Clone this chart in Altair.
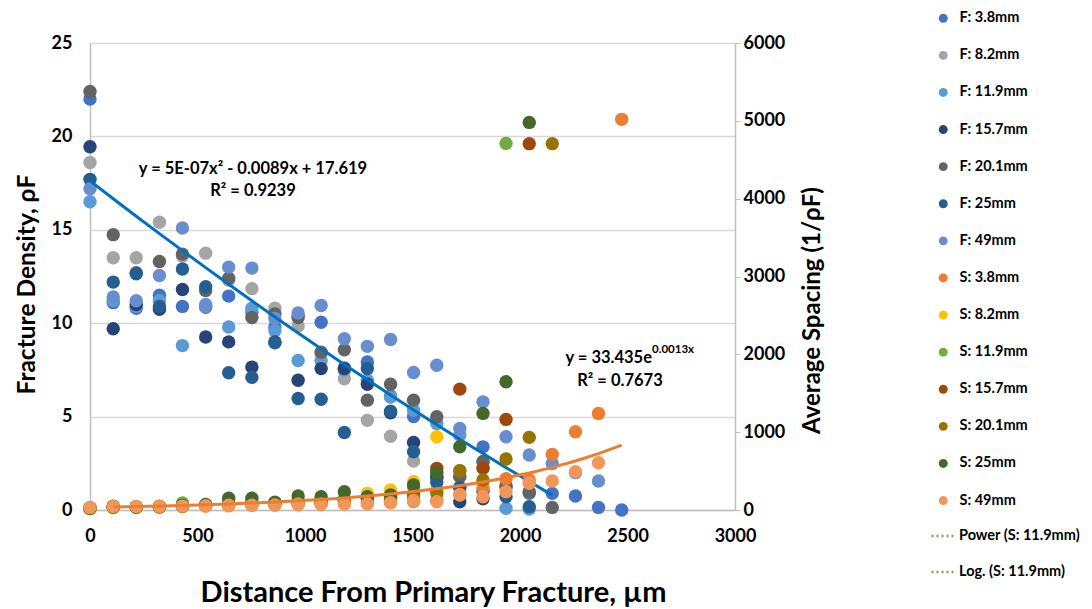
import altair as alt
import pandas as pd

FONT = "Lato"

# distance from primary fracture (µm)
X = [0, 108, 215, 323, 430, 538, 645, 753, 860, 968, 1075, 1183, 1290, 1398,
     1505, 1613, 1720, 1828, 1935, 2043, 2150, 2258, 2365, 2473]

N = None
# Fracture density (left axis)
F_38 = [22.0, 11.1, 10.8, 11.5, 10.9, 10.85, 11.45, 10.6, 9.8, 10.4, 10.05, 7.6, 7.92, 6.1, 5.0, 1.7, 1.2, 3.38, 1.2, 0.9, 0.89, 0.75, 0.14, 0.0]
F_82 = [18.6, 13.5, 13.5, 15.4, 13.6, 13.75, 12.3, 11.85, 10.8, 9.85, 8.4, 7.03, 4.8, 3.95, 2.62, 1.1, 1.8, 1.5, N, N, N, N, N, N]
F_119 = [16.5, 11.2, 10.9, 11.2, 8.8, 11.0, 9.8, 10.8, 9.6, 8.0, 8.0, 7.5, 6.95, 6.05, 5.34, 4.63, 4.0, 2.6, 0.09, 0.05, N, N, N, N]
F_157 = [19.45, 9.7, 11.0, 10.75, 11.8, 9.26, 9.0, 7.65, 9.0, 6.95, 7.57, 7.57, 6.73, 5.2, 3.62, 1.8, 0.44, 0.6, N, N, N, N, N, N]
F_201 = [22.4, 14.74, 12.7, 13.3, 13.7, 11.75, 12.4, 10.3, 10.5, 10.3, 8.45, 8.58, 5.88, 6.73, 5.88, 4.99, 1.78, 2.58, 1.3, 0.98, 0.14, N, N, N]
F_25 = [17.7, 12.2, 12.65, 10.9, 12.9, 11.95, 7.35, 7.1, 8.95, 5.97, 5.93, 4.15, 7.57, 5.29, 3.12, 1.5, 1.2, 1.0, 0.71, 0.18, N, N, N, N]
F_49 = [17.2, 11.4, 11.2, 12.55, 15.1, 10.9, 13.0, 12.95, 10.25, 10.55, 10.95, 9.17, 8.76, 9.13, 7.36, 7.75, 4.36, 5.79, 3.92, 2.94, 2.49, 2.0, 1.55, N]

# Average spacing (right axis)
S_38 = [30, 40, 40, 45, 45, 50, 55, 60, 65, 70, 75, 80, 85, 95, 110, 130, 200, 282, 402, 385, 715, 1005, 1241, 5019]
S_82 = [25, 30, 35, 40, 45, 50, 60, 70, 70, 80, 90, 110, 214, 257, 364, 941, N, N, N, N, N, N, N, N]
S_119 = [20, 40, 40, 40, 90, 60, 100, 110, 90, 120, 130, 150, 160, 180, 300, 490, 505, 535, 4710, N, N, N, N, N]
S_157 = [25, 40, 40, 45, 50, 60, 70, 80, 80, 100, 110, 120, 140, 150, 200, 535, 1553, 539, 1164, 4707, N, N, N, N]
S_201 = [25, 35, 40, 45, 50, 60, 70, 80, 90, 100, 110, 120, 150, 160, 154, 214, 505, 385, 655, 933, 4707, N, N, N]
S_25 = [20, 50, 40, 40, 60, 70, 150, 150, 100, 180, 171, 235, 171, 193, 321, 479, 813, 1241, 1647, 4980, N, N, N, N]
S_49 = [30, 45, 45, 45, 50, 55, 60, 60, 65, 77, 77, 77, 80, 94, 120, 107, 193, 171, 235, 343, 372, 492, 607, N]

F_NAMES = ["F: 3.8mm", "F: 8.2mm", "F: 11.9mm", "F: 15.7mm", "F: 20.1mm", "F: 25mm", "F: 49mm"]
S_NAMES = ["S: 3.8mm", "S: 8.2mm", "S: 11.9mm", "S: 15.7mm", "S: 20.1mm", "S: 25mm", "S: 49mm"]
F_SERIES = [F_38, F_82, F_119, F_157, F_201, F_25, F_49]
S_SERIES = [S_38, S_82, S_119, S_157, S_201, S_25, S_49]
COLORS = ["#4472C4", "#A5A5A5", "#5B9BD5", "#264478", "#636363", "#255E91", "#698ED0",
          "#ED7D31", "#FFC000", "#70AD47", "#9E480E", "#997300", "#43682B", "#F1975A"]
TREND_NAMES = ["Power (S: 11.9mm)", "Log. (S: 11.9mm)"]

rows_f = []
for k, (name, vals) in enumerate(zip(F_NAMES, F_SERIES)):
    for i, (x, v) in enumerate(zip(X, vals)):
        if v is not None:
            rows_f.append({"x": x, "y": v, "series": name, "ord": k * 100 + i})
rows_s = []
for k, (name, vals) in enumerate(zip(S_NAMES, S_SERIES)):
    for i, (x, v) in enumerate(zip(X, vals)):
        if v is not None:
            rows_s.append({"x": x, "s": v, "series": name, "ord": k * 100 + i})
df_f = pd.DataFrame(rows_f)
df_s = pd.DataFrame(rows_s)

x_enc = alt.X("x:Q", scale=alt.Scale(domain=[0, 3000], nice=False),
              axis=alt.Axis(values=[0, 500, 1000, 1500, 2000, 2500, 3000], format="d", labelFlush=False,
                            grid=False, ticks=False,
                            domainColor="#BFBFBF", domainWidth=1.5, labelPadding=17,
                            title="Distance From Primary Fracture, µm", titleFontSize=29,
                            titlePadding=33, titleX=343))
y_left = alt.Y("y:Q", scale=alt.Scale(domain=[0, 25], nice=False),
               axis=alt.Axis(values=[0, 5, 10, 15, 20, 25], grid=True, gridColor="#D9D9D9", gridWidth=1.5,
                             ticks=False, domainColor="#BFBFBF", domainWidth=1.5, labelPadding=18,
                             labelFlush=False,
                             title="Fracture Density, ρF", titleFontSize=24.5, titlePadding=12,
                             titleY=241))
y_right = alt.Y("s:Q", scale=alt.Scale(domain=[0, 6000], nice=False),
                axis=alt.Axis(orient="right", values=[0, 1000, 2000, 3000, 4000, 5000, 6000], format="d",
                              grid=False, labelFlush=False,
                              ticks=True, tickSize=5, tickColor="#BFBFBF", domainColor="#BFBFBF",
                              domainWidth=1.5, labelPadding=3,
                              title="Average Spacing (1/ρF)", titleFontSize=24, titleAngle=270,
                              titleBaseline="middle", titlePadding=28, titleY=267))

color_enc = alt.Color("series:N", scale=alt.Scale(domain=F_NAMES + S_NAMES, range=COLORS),
                      legend=alt.Legend(title=None, orient="none", legendX=846, legendY=-32,
                                        symbolType="circle", symbolSize=80, rowPadding=22.1,
                                        labelFont=FONT, labelFontSize=14.5, labelFontWeight="bold",
                                        labelColor="#000000", labelOffset=9))

f_pts = alt.Chart(df_f).mark_circle(size=180, opacity=1).encode(
    x=x_enc, y=y_left, color=color_enc, order=alt.Order("ord:Q"))
s_pts = alt.Chart(df_s).mark_circle(size=180, opacity=1).encode(
    x=x_enc, y=y_right, color=color_enc, order=alt.Order("ord:Q"))

poly = alt.Chart(pd.DataFrame({"x": X[:21]})).transform_calculate(
    y="5e-7*datum.x*datum.x - 0.0089*datum.x + 17.619"
).mark_line(color="#0070C0", strokeWidth=3).encode(x=x_enc, y=y_left)

expo = alt.Chart(pd.DataFrame({"x": X[1:]})).transform_calculate(
    s="33.435*exp(0.0013*datum.x)"
).mark_line(color="#ED7D31", strokeWidth=3).encode(x=x_enc, y=y_right)

# legend-only entries for the (off-chart) S: 11.9mm trendlines
dummy = alt.Chart(pd.DataFrame({"x": [0, 0], "s": [None, None], "trend": TREND_NAMES})).mark_line(
    color="#70AD47", strokeWidth=2.5).encode(
    x=x_enc, y=y_right,
    strokeDash=alt.StrokeDash("trend:N", scale=alt.Scale(domain=TREND_NAMES, range=[[2, 3], [2, 3]]),
                              legend=alt.Legend(title=None, orient="none", legendX=840, legendY=479,
                                                symbolType="stroke", symbolSize=625,
                                                symbolStrokeColor="#70AD47", symbolStrokeWidth=2.5,
                                                rowPadding=15, labelFont=FONT, labelFontSize=14.5,
                                                labelFontWeight="bold", labelColor="#000000",
                                                labelOffset=1)))

txt_style = dict(font=FONT, fontSize=16.5, fontWeight="bold", color="#000000")
eq1 = alt.Chart(pd.DataFrame({"x": [758, 758], "y": [18.27, 17.1],
                              "t": ["y = 5E-07x² - 0.0089x + 17.619", "R² = 0.9239"]})).mark_text(
    align="center", baseline="middle", **txt_style).encode(x=x_enc, y=y_left, text="t:N")

eq2 = alt.Chart(pd.DataFrame({"x": [2614], "s": [1951], "t": ["y = 33.435e"]})).mark_text(
    align="right", baseline="middle", **txt_style).encode(x=x_enc, y=y_right, text="t:N")
eq2sup = alt.Chart(pd.DataFrame({"x": [2614], "s": [1951], "t": ["0.0013x"]})).mark_text(
    align="left", baseline="middle", dy=-8, font=FONT, fontSize=11.5, fontWeight="bold",
    color="#000000").encode(x=x_enc, y=y_right, text="t:N")
eq2r = alt.Chart(pd.DataFrame({"x": [2465], "s": [1656], "t": ["R² = 0.7673"]})).mark_text(
    align="center", baseline="middle", **txt_style).encode(x=x_enc, y=y_right, text="t:N")

left = alt.layer(f_pts, poly, eq1)
right = alt.layer(s_pts, expo, dummy, eq2, eq2sup, eq2r)

chart = alt.layer(left, right).resolve_scale(y="independent").properties(
    width=645, height=467,
    autosize=alt.AutoSizeParams(type="none"),
    padding={"left": 90, "top": 43, "right": 357, "bottom": 99},
    background="#FFFFFF"
).configure_axis(
    labelFont=FONT, labelFontSize=18, labelFontWeight="bold", labelColor="#000000",
    titleFont=FONT, titleFontWeight="bold", titleColor="#000000"
).configure_view(stroke=None)

chart.save("out.html", embed_options={"renderer": "svg", "actions": False})
